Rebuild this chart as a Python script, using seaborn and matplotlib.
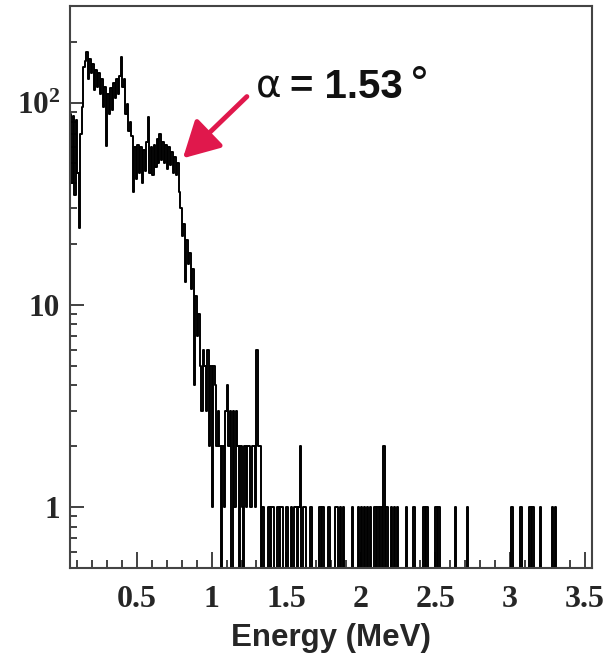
import numpy as np
import pandas as pd
import matplotlib
matplotlib.use("Agg")
import matplotlib.pyplot as plt
import seaborn as sns
from matplotlib.ticker import FixedLocator, FixedFormatter, NullFormatter

# ---------------- data ----------------
bin_width = 0.01
e_min, e_max = 0.05, 3.55

# counts for bins with low edges 0.05, 0.06, ... 1.34
main_counts = [
    88, 40, 86, 35, 82, 45, 24, 70, 95, 150,           # 0.05-0.14
    160, 178, 130, 165, 140, 155, 115, 145, 120, 140,  # 0.15-0.24
    110, 130, 95, 120, 61, 110, 88, 118, 92, 125,      # 0.25-0.34
    105, 130, 110, 135, 168, 120, 130, 88, 98, 72,     # 0.35-0.44
    80, 68, 36, 60, 42, 62, 45, 60, 40, 58,            # 0.45-0.54
    46, 64, 85, 45, 60, 44, 62, 48, 66, 50,            # 0.55-0.64
    70, 52, 64, 50, 62, 47, 60, 49, 57, 45,            # 0.65-0.74
    54, 44, 50, 36, 30, 22, 25, 13, 21, 16,            # 0.75-0.84
    18, 12, 15, 4, 11, 7, 9, 5, 3, 6,                  # 0.85-0.94
    5, 3, 6, 2, 5, 1, 5, 4, 2, 3,                      # 0.95-1.04
    2, 0, 2, 1, 3, 4, 2, 3, 0, 3,                      # 1.05-1.14
    1, 3, 2, 0, 2, 1, 0, 2, 1, 2,                      # 1.15-1.24
    2, 1, 2, 2, 1, 6, 2, 2, 0, 1,                      # 1.25-1.34
]

# sparse high-energy tail: bin low edge (MeV) and count
tail_energies = [1.38, 1.40, 1.41, 1.44, 1.46, 1.47, 1.50, 1.53, 1.55, 1.56,
                 1.58, 1.59, 1.61, 1.62, 1.66, 1.72, 1.74, 1.78, 1.83, 1.84,
                 1.86, 1.88, 1.94, 1.98, 2.00, 2.02, 2.04, 2.06, 2.09, 2.11,
                 2.13, 2.15, 2.17, 2.20, 2.22, 2.24, 2.30, 2.35, 2.42, 2.44,
                 2.50, 2.52, 2.63, 2.71, 3.01, 3.07, 3.13, 3.15, 3.20, 3.28,
                 3.30]
tail_counts = [1, 1, 1, 1, 1, 1, 1, 1, 1, 1,
               1, 2, 1, 1, 1, 1, 1, 1, 1, 1,
               1, 1, 1, 1, 1, 1, 1, 1, 1, 1,
               1, 2, 1, 1, 1, 1, 1, 1, 1, 1,
               1, 1, 1, 1, 1, 1, 1, 1, 1, 1,
               1]

x_ticks = [0.5, 1.0, 1.5, 2.0, 2.5, 3.0, 3.5]
x_tick_labels = ["0.5", "1", "1.5", "2", "2.5", "3", "3.5"]
y_ticks = [1, 10, 100]
y_tick_labels = ["1", "10", r"$10^{2}$"]
x_label = "Energy (MeV)"
annot_alpha = "α"
annot_value = "= 1.53"
annot_deg = "°"
arrow_tip = (0.807, 53.0)
arrow_tail = (1.236, 107.0)

# ---------------- build histogram table ----------------
n_bins = int(round((e_max - e_min) / bin_width))
edges = e_min + bin_width * np.arange(n_bins + 1)
centers = edges[:-1] + bin_width / 2
counts = np.zeros(n_bins)
counts[:len(main_counts)] = main_counts
for e, c in zip(tail_energies, tail_counts):
    counts[int(round((e - e_min) / bin_width))] += c
df = pd.DataFrame({"energy": centers, "count": counts})

# ---------------- style ----------------
sns.set_theme(style="white")
plt.rcParams["font.family"] = ["Liberation Serif", "DejaVu Serif"]
plt.rcParams["font.weight"] = "bold"
plt.rcParams["mathtext.fontset"] = "custom"
plt.rcParams["mathtext.rm"] = "Liberation Serif:bold"
plt.rcParams["mathtext.it"] = "Liberation Serif:bold"
plt.rcParams["mathtext.bf"] = "Liberation Serif:bold"

fig = plt.figure(figsize=(6.05, 6.56), dpi=100)
ax = fig.add_axes([70 / 605, 1 - 568 / 656, (592 - 70) / 605, (568 - 6) / 656])

sns.histplot(data=df, x="energy", weights="count", bins=edges.tolist(),
             element="step", fill=False, color="black", linewidth=1.4, ax=ax)
ax.set_yscale("log")
ax.set_xlim(e_min, e_max)
ax.set_ylim(0.5, 300)

# ticks
ax.xaxis.set_major_locator(FixedLocator(x_ticks))
ax.xaxis.set_major_formatter(FixedFormatter(x_tick_labels))
ax.xaxis.set_minor_locator(FixedLocator(np.round(np.arange(0.1, 3.51, 0.1), 2)))
ax.xaxis.set_minor_formatter(NullFormatter())
ax.yaxis.set_major_locator(FixedLocator(y_ticks))
ax.yaxis.set_major_formatter(FixedFormatter(y_tick_labels))
minor_y = [m * 10 ** k for k in (-1, 0, 1, 2) for m in range(2, 10)]
ax.yaxis.set_minor_locator(FixedLocator([v for v in minor_y if 0.5 <= v <= 300]))
ax.yaxis.set_minor_formatter(NullFormatter())

tick_col = "#333333"
ax.tick_params(axis="x", which="major", direction="in", length=11.5, width=1.3,
               color=tick_col, labelsize=23, pad=12.5, bottom=True, top=False)
ax.tick_params(axis="x", which="minor", direction="in", length=6, width=1.3,
               color=tick_col, bottom=True, top=False)
ax.tick_params(axis="y", which="major", direction="in", length=10, width=1.3,
               color=tick_col, labelsize=22.5, pad=7, left=True, right=False)
ax.tick_params(axis="y", which="minor", direction="in", length=5, width=1.3,
               color=tick_col, left=True, right=False)
for s in ax.spines.values():
    s.set_color("#444444")
    s.set_linewidth(1.5)

ax.set_ylabel("")
ax.set_xlabel(x_label, fontfamily=["Liberation Sans", "DejaVu Sans"],
              fontweight="bold", fontsize=22.5)
ax.xaxis.set_label_coords(0.5, -0.097)

# annotation
ax.annotate("", xy=arrow_tip, xytext=arrow_tail, xycoords="data", textcoords="data",
            arrowprops=dict(arrowstyle="-|>,head_length=1.1,head_width=0.6",
                            color="#e0184c", lw=3.5, shrinkA=0, shrinkB=0,
                            mutation_scale=20))
fig.text(256 / 605, 1 - 98 / 656, annot_alpha, fontfamily=["DejaVu Sans"],
         fontweight="normal", fontsize=28, ha="left", va="baseline", color="#111111")
fig.text(290 / 605, 1 - 98 / 656, annot_value, fontfamily=["Liberation Sans"],
         fontweight="bold", fontsize=29, ha="left", va="baseline", color="#111111")
fig.text(409 / 605, 1 - 98 / 656, annot_deg, fontfamily=["DejaVu Sans"],
         fontweight="normal", fontsize=30, ha="left", va="baseline", color="#111111")

fig.savefig("out.png", dpi=100)
